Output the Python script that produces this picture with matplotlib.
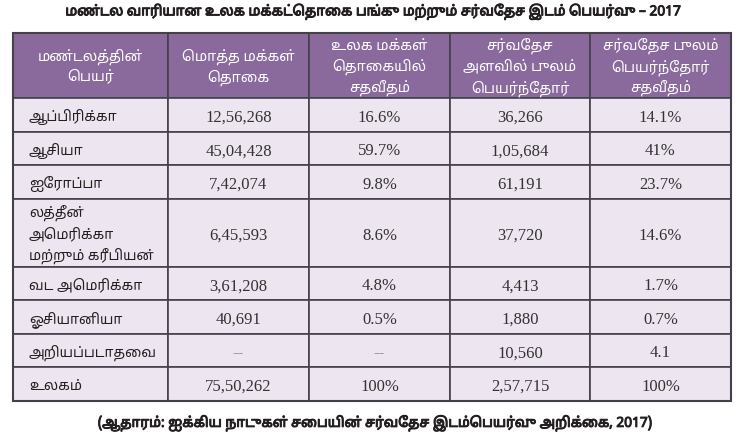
import matplotlib
matplotlib.use("Agg")
import matplotlib.pyplot as plt
import matplotlib.patheffects as pe
from matplotlib.patches import Rectangle

# ---- data ----
title = "மண்டல வாரியான உலக மக்கட்தொகை பங்கு மற்றும் சர்வதேச இடம் பெயர்வு – 2017"
source = "(ஆதாரம்: ஐக்கிய நாடுகள் சபையின் சர்வதேச இடம்பெயர்வு அறிக்கை, 2017)"
headers = [
    "மண்டலத்தின்\nபெயர்",
    "மொத்த மக்கள்\nதொகை",
    "உலக மக்கள்\nதொகையில்\nசதவீதம்",
    "சர்வதேச\nஅளவில் புலம்\nபெயர்ந்தோர்",
    "சர்வதேச புலம்\nபெயர்ந்தோர்\nசதவீதம்",
]
regions = ["ஆப்பிரிக்கா", "ஆசியா", "ஐரோப்பா",
           "லத்தீன்\nஅமெரிக்கா\nமற்றும் கரீபியன்",
           "வட அமெரிக்கா", "ஓசியானியா", "அறியப்படாதவை", "உலகம்"]
population = ["12,56,268", "45,04,428", "7,42,074", "6,45,593",
              "3,61,208", "40,691", "--", "75,50,262"]
pop_share = ["16.6%", "59.7%", "9.8%", "8.6%", "4.8%", "0.5%", "--", "100%"]
migrants = ["36,266", "1,05,684", "61,191", "37,720",
            "4,413", "1,880", "10,560", "2,57,715"]
migrant_share = ["14.1%", "41%", "23.7%", "14.6%", "1.7%", "0.7%", "4.1", "100%"]

# matplotlib does no text shaping, so put Tamil pre-base vowel signs in visual order
SPLIT = {"\u0BCA": ("\u0BC6", "\u0BBE"), "\u0BCB": ("\u0BC7", "\u0BBE"),
         "\u0BCC": ("\u0BC6", "\u0BD7")}
PRE = "\u0BC6\u0BC7\u0BC8"


def visual(s):
    out = []
    for ch in s:
        if ch in SPLIT and out:
            pre, post = SPLIT[ch]
            out.insert(len(out) - 1, pre)
            out.append(post)
        elif ch in PRE and out:
            out.insert(len(out) - 1, ch)
        else:
            out.append(ch)
    return "".join(out)


TAMIL = ["Noto Sans Tamil", "DejaVu Sans"]
SERIF = "Liberation Serif"
HEAD_BG = "#8a6a9d"
BODY_BG = "#ede5ef"
EDGE = "#45414b"
INK = "#231f20"
LINE = 21  # px between wrapped lines

fig = plt.figure(figsize=(7.48, 4.44), dpi=100)
ax = fig.add_axes([0, 0, 1, 1])
ax.set_xlim(0, 748)
ax.set_ylim(444, 0)
ax.axis("off")

col_x = [13, 168, 309, 450, 590, 731]
head_top, head_bot = 33.5, 98
row_h = [33.5, 33.5, 33.5, 68, 33.5, 33.5, 33.5, 33.5]
bold = [pe.withStroke(linewidth=0.7, foreground=INK)]


def lines_at(x, yc, s, **kw):
    parts = s.split("\n")
    y0 = yc - (len(parts) - 1) * LINE / 2
    for k, p in enumerate(parts):
        ax.text(x, y0 + k * LINE, visual(p), va="center", family=TAMIL, **kw)


ax.text(373, 11.5, visual(title), ha="center", va="center", fontsize=9.9,
        family=TAMIL, color=INK, path_effects=bold)

# header
for j, h in enumerate(headers):
    ax.add_patch(Rectangle((col_x[j], head_top), col_x[j + 1] - col_x[j],
                           head_bot - head_top, facecolor=HEAD_BG,
                           edgecolor=EDGE, lw=1.2))
    lines_at((col_x[j] + col_x[j + 1]) / 2, (head_top + head_bot) / 2 + 1.5, h,
             ha="center", fontsize=10.3, color="white")

# body
y = head_bot
for i, reg in enumerate(regions):
    h = row_h[i]
    for j in range(5):
        ax.add_patch(Rectangle((col_x[j], y), col_x[j + 1] - col_x[j], h,
                               facecolor=BODY_BG, edgecolor=EDGE, lw=1.2))
    yc = y + h / 2
    lines_at(col_x[0] + 16, yc + 2.5, reg, ha="left", fontsize=10.1, color=INK)
    for j, col in enumerate([population, pop_share, migrants, migrant_share]):
        ax.text((col_x[j + 1] + col_x[j + 2]) / 2, yc + 3, col[i], ha="center",
                va="center", fontsize=12, family=SERIF,
                color="#8a8590" if col[i] == "--" else "#333333")
    y += h

ax.add_patch(Rectangle((col_x[0], head_top), col_x[-1] - col_x[0],
                       y - head_top, fill=False, edgecolor=EDGE, lw=1.5))

ax.text(375, 423, visual(source), ha="center", va="center", fontsize=9.9,
        family=TAMIL, color=INK, path_effects=bold)

fig.savefig("out.png", dpi=100)
